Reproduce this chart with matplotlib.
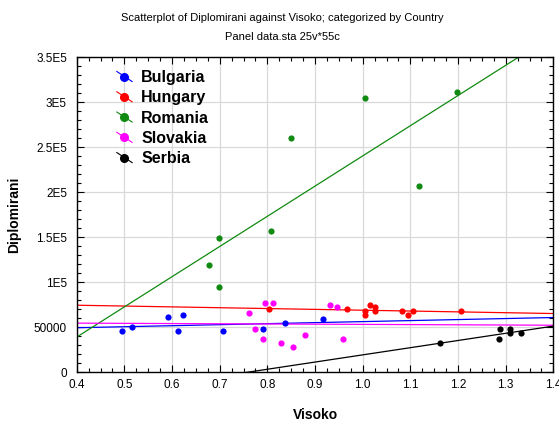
import numpy as np
import matplotlib
matplotlib.use("Agg")
import matplotlib.pyplot as plt
from matplotlib.lines import Line2D
from matplotlib.legend_handler import HandlerBase
from matplotlib.ticker import AutoMinorLocator

plt.rcParams["font.family"] = ["Liberation Sans", "DejaVu Sans"]

# data
countries = ["Bulgaria", "Hungary", "Romania", "Slovakia", "Serbia"]
colors = ["#0000ff", "#ff0000", "#108a10", "#ff00ff", "#000000"]

bg_x = [0.496, 0.517, 0.592, 0.613, 0.622, 0.706, 0.790, 0.837, 0.916]
bg_y = [45550, 50300, 61400, 45550, 63700, 45550, 47800, 54800, 59200]

hu_x = [0.803, 0.966, 1.004, 1.004, 1.016, 1.025, 1.025, 1.083, 1.096, 1.106, 1.206]
hu_y = [70300, 70300, 68100, 63700, 74800, 72500, 68100, 68100, 63700, 68100, 68100]

ro_x = [0.677, 0.698, 0.698, 0.807, 0.849, 1.004, 1.118, 1.197]
ro_y = [119500, 148900, 94800, 157300, 260300, 305100, 206600, 311700]

sk_x = [0.761, 0.773, 0.790, 0.794, 0.811, 0.828, 0.853, 0.879, 0.932, 0.945, 0.958]
sk_y = [65900, 47800, 36700, 77000, 77000, 32200, 27800, 41100, 74800, 72500, 36700]

rs_x = [1.163, 1.285, 1.289, 1.310, 1.310, 1.331]
rs_y = [32200, 36700, 47800, 47800, 43300, 43300]

xs = [bg_x, hu_x, ro_x, sk_x, rs_x]
ys = [bg_y, hu_y, ro_y, sk_y, rs_y]

yticks = [0, 50000, 100000, 150000, 200000, 250000, 300000, 350000]
ytick_labels = ["0", "50000", "1E5", "1.5E5", "2E5", "2.5E5", "3E5", "3.5E5"]
xticks = [0.4, 0.5, 0.6, 0.7, 0.8, 0.9, 1.0, 1.1, 1.2, 1.3, 1.4]


class DiagHandler(HandlerBase):
    # statistica-like legend key: short slanted line with a dot
    def create_artists(self, legend, orig, xd, yd, w, h, fs, trans):
        c = orig.get_color()
        ln = Line2D([xd + w * 0.1, xd + w * 0.9], [yd + h * 0.95, yd + h * 0.05],
                    color=c, lw=0.8, transform=trans)
        mk = Line2D([xd + w * 0.5], [yd + h * 0.5], marker="o", ms=5.5,
                    color=c, lw=0, transform=trans)
        return [ln, mk]


fig = plt.figure(figsize=(5.59, 4.24), dpi=100)
ax = fig.add_axes([76.7 / 559, (424 - 372.3) / 424,
                   (553.4 - 76.7) / 559, (372.3 - 57.3) / 424])

xfit = np.array([0.4, 1.4])
handles = []
for name, c, x, y in zip(countries, colors, xs, ys):
    ax.scatter(x, y, s=20, color=c, zorder=3, linewidths=0)
    k, b = np.polyfit(x, y, 1)
    ax.plot(xfit, k * xfit + b, color=c, lw=0.9, zorder=2)
    handles.append(Line2D([], [], color=c, label=name))

ax.set_xlim(0.4, 1.4)
ax.set_ylim(0, 350000)
ax.set_xticks(xticks)
ax.set_xticklabels([f"{v:.1f}" for v in xticks])
ax.set_yticks(yticks)
ax.set_yticklabels(ytick_labels)
ax.xaxis.set_minor_locator(AutoMinorLocator(4))
ax.yaxis.set_minor_locator(AutoMinorLocator(5))
ax.tick_params(which="both", direction="in", top=True, right=True,
               labelsize=8.5, width=0.8)
ax.tick_params(which="major", length=5)
ax.tick_params(axis="y", which="major", pad=7)
ax.tick_params(axis="x", which="major", pad=5)
ax.tick_params(which="minor", length=3)
ax.grid(True, color="#d9d9d9", lw=0.9)
ax.set_axisbelow(True)
for s in ax.spines.values():
    s.set_linewidth(1.0)

ax.set_xlabel("Visoko", fontsize=10, fontweight="bold", labelpad=12)
ax.set_ylabel("Diplomirani", fontsize=10, fontweight="bold", labelpad=9)

fig.text(282 / 559, 1 - 18 / 424, "Scatterplot of Diplomirani against Visoko; categorized by Country",
         ha="center", va="center", fontsize=8)
fig.text(282 / 559, 1 - 37 / 424, "Panel data.sta 25v*55c",
         ha="center", va="center", fontsize=8)

leg = ax.legend(handles=handles, handler_map={Line2D: DiagHandler()},
                loc="upper left", bbox_to_anchor=(0.05, 1.005), frameon=False,
                prop={"weight": "bold", "size": 11.5}, handlelength=1.2,
                handletextpad=0.45, labelspacing=0.33)

fig.savefig("out.png", dpi=100)
